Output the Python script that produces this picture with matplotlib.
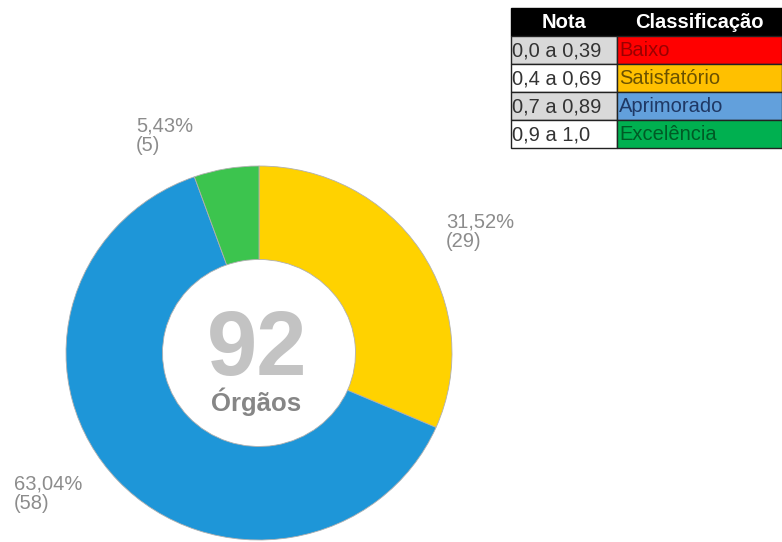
import matplotlib.pyplot as plt
from matplotlib.patches import Rectangle

plt.rcParams['font.family'] = ['Liberation Sans', 'DejaVu Sans']

# Data
categorias = ["Satisfatório", "Aprimorado", "Excelência"]
orgaos = [29, 58, 5]
cores = ["#FFD200", "#1E96D8", "#3CC44E"]
total = sum(orgaos)

# tabela de classificacao
notas = ["0,0 a 0,39", "0,4 a 0,69", "0,7 a 0,89", "0,9 a 1,0"]
classes = ["Baixo", "Satisfatório", "Aprimorado", "Excelência"]
cor_classe = ["#FF0000", "#FFC000", "#62A0DC", "#00B050"]
cor_texto = ["#9A0000", "#6B5200", "#1F3864", "#005A25"]
cor_nota = ["#D9D9D9", "#FFFFFF", "#D9D9D9", "#FFFFFF"]

W, H = 782, 542
fig = plt.figure(figsize=(W / 100, H / 100), dpi=100)

# donut
cx, cy, rx, ry = 259, 353, 193, 187
ax = fig.add_axes([(cx - rx) / W, (H - cy - ry) / H, 2 * rx / W, 2 * ry / H])
ax.pie(orgaos, colors=cores, startangle=90, counterclock=False,
       wedgeprops=dict(width=0.5, edgecolor="#b0b0b0", linewidth=0.6))
ax.set_aspect('auto')
ax.set_xlim(-1, 1)
ax.set_ylim(-1, 1)
ax.axis('off')

# overlay em pixels
ov = fig.add_axes([0, 0, 1, 1], facecolor='none')
ov.set_xlim(0, W)
ov.set_ylim(H, 0)
ov.axis('off')

ov.text(257, 375, str(total), fontsize=65, fontweight='bold', color="#C3C3C3",
        ha='center', va='baseline')
ov.text(256, 411, "Órgãos", fontsize=18.5, fontweight='bold', color="#868686",
        ha='center', va='baseline')

# rotulos das fatias
pos_rotulo = [(446, 213), (14, 475), (136, 117)]
for n, (x, y) in zip(orgaos, pos_rotulo):
    pct = f"{100 * n / total:.2f}%".replace('.', ',')
    ov.text(x, y, f"{pct}\n({n})", fontsize=14.5, color="#8C8C8C",
            ha='left', va='top', linespacing=1.0)

# tabela
x0, x1, x2 = 511, 617, 782
linhas = [8, 36, 64, 92, 120, 148]
ov.add_patch(Rectangle((x0, linhas[0]), x2 - x0, linhas[1] - linhas[0],
                       facecolor='black', edgecolor='black'))
ov.text((x0 + x1) / 2, (linhas[0] + linhas[1]) / 2 + 1, "Nota", color='white',
        fontsize=14.5, fontweight='bold', ha='center', va='center')
ov.text((x1 + x2) / 2, (linhas[0] + linhas[1]) / 2 + 1, "Classificação", color='white',
        fontsize=14.5, fontweight='bold', ha='center', va='center')
for i in range(4):
    y0, y1 = linhas[i + 1], linhas[i + 2]
    ov.add_patch(Rectangle((x0, y0), x1 - x0, y1 - y0, facecolor=cor_nota[i],
                           edgecolor='#222222', linewidth=1))
    ov.add_patch(Rectangle((x1, y0), x2 - x1, y1 - y0, facecolor=cor_classe[i],
                           edgecolor='#222222', linewidth=1))
    ov.text(x0 + 1, (y0 + y1) / 2 + 1, notas[i], fontsize=14.5, color="#333333",
            ha='left', va='center')
    ov.text(x1 + 2, (y0 + y1) / 2 + 1, classes[i], fontsize=14.5, color=cor_texto[i],
            ha='left', va='center')

fig.savefig("out.png", dpi=100)
